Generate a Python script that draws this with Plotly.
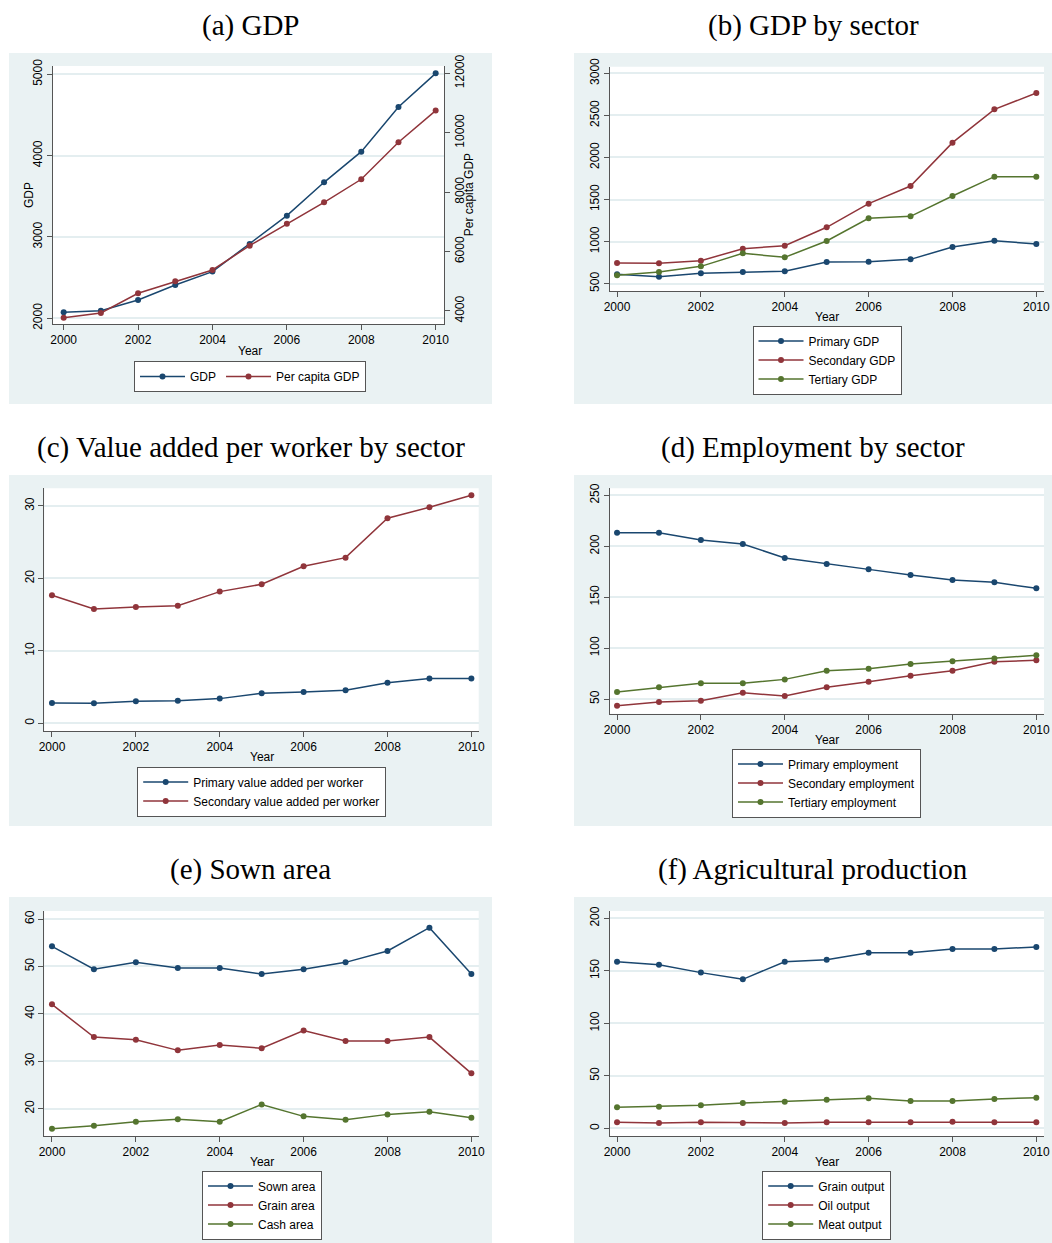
import plotly.graph_objects as go

# ---- data -------------------------------------------------------------
years = list(range(2000, 2011))
year_ticks = [2000, 2002, 2004, 2006, 2008, 2010]

gdp = [2074, 2094, 2225, 2410, 2574, 2914, 3262, 3672, 4049, 4598, 5012]
per_capita_gdp = [3776, 3933, 4595, 4999, 5380, 6200, 6940, 7658, 8433, 9678, 10744]

primary_gdp = [611, 583, 623, 639, 647, 758, 761, 789, 936, 1011, 971]
secondary_gdp = [746, 742, 773, 916, 952, 1170, 1451, 1661, 2176, 2572, 2766]
tertiary_gdp = [599, 639, 706, 861, 813, 1007, 1277, 1300, 1542, 1772, 1772]

primary_va_worker = [2.81, 2.76, 3.04, 3.13, 3.41, 4.14, 4.33, 4.56, 5.61, 6.17, 6.17]
secondary_va_worker = [17.67, 15.78, 16.06, 16.24, 18.18, 19.19, 21.67, 22.87, 28.30, 29.82, 31.48]

primary_emp = [213.3, 213.3, 206.1, 202.2, 188.5, 182.6, 177.3, 171.8, 166.9, 164.6, 158.7]
secondary_emp = [43.5, 47.1, 48.4, 56.2, 52.9, 61.5, 67.0, 72.9, 77.8, 86.7, 88.0]
tertiary_emp = [56.9, 61.5, 65.4, 65.4, 69.3, 77.8, 79.8, 84.4, 87.0, 89.9, 92.9]

sown_area = [54.24, 49.4, 50.86, 49.67, 49.67, 48.4, 49.4, 50.86, 53.25, 58.17, 48.4]
grain_area = [42.0, 35.1, 34.55, 32.3, 33.43, 32.74, 36.5, 34.27, 34.27, 35.1, 27.45]
cash_area = [15.78, 16.4, 17.26, 17.75, 17.26, 20.9, 18.38, 17.68, 18.8, 19.37, 18.1]

grain_output = [158.7, 155.9, 148.3, 141.9, 158.7, 160.6, 167.3, 167.3, 170.8, 170.8, 172.7]
oil_output = [5.7, 5.1, 5.7, 5.1, 5.1, 5.7, 5.7, 5.7, 6.3, 5.7, 5.7]
meat_output = [20.0, 20.6, 21.9, 24.1, 25.4, 27.3, 28.6, 26.0, 26.0, 27.9, 29.2]

panel_titles = ["(a) GDP", "(b) GDP by sector", "(c) Value added per worker by sector",
                "(d) Employment by sector", "(e) Sown area", "(f) Agricultural production"]

# ---- styling ----------------------------------------------------------
W, H = 1052, 1243
NAVY, MAROON, GREEN = "#1a476f", "#90353b", "#55752f"
PANEL_BG = "#eaf2f3"
GRID = "#e4eef0"
AXIS = "#555555"
SANS = "Liberation Sans, Arial, sans-serif"
SERIF = "Liberation Serif, Times New Roman, serif"


def fx(px):
    return px / W


def fy(py):
    return 1 - py / H


fig = go.Figure()


def add_series(y, name, color, xaxis, yaxis, legend):
    fig.add_trace(go.Scatter(
        x=years, y=y, name=name, mode="lines+markers",
        line=dict(color=color, width=1.5),
        marker=dict(color=color, size=6, symbol="circle"),
        xaxis=xaxis, yaxis=yaxis, legend=legend,
    ))


# (a)
add_series(gdp, "GDP", NAVY, "x", "y", "legend")
add_series(per_capita_gdp, "Per capita GDP", MAROON, "x", "y7", "legend")
# (b)
add_series(primary_gdp, "Primary GDP", NAVY, "x2", "y2", "legend2")
add_series(secondary_gdp, "Secondary GDP", MAROON, "x2", "y2", "legend2")
add_series(tertiary_gdp, "Tertiary GDP", GREEN, "x2", "y2", "legend2")
# (c)
add_series(primary_va_worker, "Primary value added per worker", NAVY, "x3", "y3", "legend3")
add_series(secondary_va_worker, "Secondary value added per worker", MAROON, "x3", "y3", "legend3")
# (d)
add_series(primary_emp, "Primary employment", NAVY, "x4", "y4", "legend4")
add_series(secondary_emp, "Secondary employment", MAROON, "x4", "y4", "legend4")
add_series(tertiary_emp, "Tertiary employment", GREEN, "x4", "y4", "legend4")
# (e)
add_series(sown_area, "Sown area", NAVY, "x5", "y5", "legend5")
add_series(grain_area, "Grain area", MAROON, "x5", "y5", "legend5")
add_series(cash_area, "Cash area", GREEN, "x5", "y5", "legend5")
# (f)
add_series(grain_output, "Grain output", NAVY, "x6", "y6", "legend6")
add_series(oil_output, "Oil output", MAROON, "x6", "y6", "legend6")
add_series(meat_output, "Meat output", GREEN, "x6", "y6", "legend6")

# panel geometry (pixels): grey region, plot region, axis ranges
panels = [
    dict(bg=(9, 53, 492, 404), plot=(52.7, 66, 444, 324),
         xr=[1999.705, 2010.224], yr=[1930, 5102], yt=[2000, 3000, 4000, 5000]),
    dict(bg=(574, 53, 1052, 404), plot=(609.7, 66.7, 1044, 291),
         xr=[1999.825, 2010.183], yr=[413, 3079], yt=[500, 1000, 1500, 2000, 2500, 3000]),
    dict(bg=(9, 475, 492, 826), plot=(44.3, 488.3, 478.7, 731),
         xr=[1999.817, 2010.175], yr=[-1.06, 32.44], yt=[0, 10, 20, 30]),
    dict(bg=(574, 475, 1052, 826), plot=(609.7, 488.3, 1044, 713.7),
         xr=[1999.825, 2010.183], yr=[35.6, 256.9], yt=[50, 100, 150, 200, 250]),
    dict(bg=(9, 897, 492, 1243), plot=(44.3, 911, 478.7, 1136),
         xr=[1999.817, 2010.175], yr=[14.24, 61.69], yt=[20, 30, 40, 50, 60]),
    dict(bg=(574, 897, 1052, 1243), plot=(609.7, 911, 1044, 1136),
         xr=[1999.825, 2010.183], yr=[-7.3, 206.98], yt=[0, 50, 100, 150, 200]),
]

title_y = [25, 25, 447, 447, 869, 869]
year_label_pos = [(250, 351), (826.7, 317), (261.7, 757), (826.7, 740), (261.7, 1162), (826.7, 1162)]
legend_pos = [(250, 361), (827, 325.5), (261.7, 766.5), (826.5, 748.5), (262, 1170.5), (826.7, 1170.5)]

shapes = []
annotations = []
layout = dict(
    width=W, height=H, autosize=False,
    margin=dict(l=0, r=0, t=0, b=0, autoexpand=False),
    paper_bgcolor="white", plot_bgcolor="rgba(0,0,0,0)",
    font=dict(family=SANS, size=12, color="black"),
)

tick_font = dict(family=SANS, size=12, color="black")

for i, p in enumerate(panels):
    n = "" if i == 0 else str(i + 1)
    bx0, by0, bx1, by1 = p["bg"]
    px0, py0, px1, py1 = p["plot"]
    shapes.append(dict(type="rect", xref="paper", yref="paper", layer="below",
                       x0=fx(bx0), x1=fx(bx1), y0=fy(by1), y1=fy(by0),
                       fillcolor=PANEL_BG, line=dict(width=0)))
    shapes.append(dict(type="rect", xref="paper", yref="paper", layer="below",
                       x0=fx(px0), x1=fx(px1), y0=fy(py1), y1=fy(py0),
                       fillcolor="white", line=dict(width=0)))
    layout["xaxis" + n] = dict(
        domain=[fx(px0), fx(px1)], range=p["xr"], anchor="y" + n,
        tickvals=year_ticks, ticks="outside", ticklen=5, tickcolor=AXIS,
        showline=True, linecolor=AXIS, linewidth=1, showgrid=False, zeroline=False,
        tickfont=tick_font, tickformat="d", fixedrange=True, automargin=False,
    )
    layout["yaxis" + n] = dict(
        domain=[fy(py1), fy(py0)], range=p["yr"], anchor="x" + n,
        tickvals=p["yt"], ticks="outside", ticklen=5, tickcolor=AXIS,
        tickangle=-90, showline=True, linecolor=AXIS, linewidth=1,
        showgrid=True, gridcolor=GRID, gridwidth=1.5, zeroline=False,
        tickfont=tick_font, tickformat="d", fixedrange=True, automargin=False,
    )
    annotations.append(dict(text=panel_titles[i], xref="paper", yref="paper",
                            x=fx((bx0 + bx1) / 2), y=fy(title_y[i]),
                            xanchor="center", yanchor="middle", showarrow=False,
                            font=dict(family=SERIF, size=29, color="black")))
    yx, yy = year_label_pos[i]
    annotations.append(dict(text="Year", xref="paper", yref="paper",
                            x=fx(yx), y=fy(yy), xanchor="center", yanchor="middle",
                            showarrow=False, font=dict(family=SANS, size=12, color="black")))
    lx, ly = legend_pos[i]
    layout["legend" + n] = dict(
        x=fx(lx), y=fy(ly), xanchor="center", yanchor="top",
        xref="container", yref="container",
        orientation="h" if i == 0 else "v",
        bgcolor="white", bordercolor=AXIS, borderwidth=1,
        font=dict(family=SANS, size=12, color="black"),
        itemwidth=45, traceorder="normal",
    )

# secondary (right) axis for per capita GDP in panel (a)
layout["yaxis7"] = dict(
    overlaying="y", side="right", anchor="x", range=[3562, 12246],
    tickvals=[4000, 6000, 8000, 10000, 12000], ticks="outside", ticklen=5,
    tickcolor=AXIS, tickangle=-90, showline=True, linecolor=AXIS, linewidth=1,
    showgrid=False, zeroline=False, tickfont=tick_font, tickformat="d",
    fixedrange=True, automargin=False,
)
annotations.append(dict(text="GDP", xref="paper", yref="paper", x=fx(29), y=fy(195),
                        textangle=-90, xanchor="center", yanchor="middle", showarrow=False,
                        font=dict(family=SANS, size=12, color="black")))
annotations.append(dict(text="Per capita GDP", xref="paper", yref="paper", x=fx(469.3), y=fy(195),
                        textangle=-90, xanchor="center", yanchor="middle", showarrow=False,
                        font=dict(family=SANS, size=12, color="black")))

layout["shapes"] = shapes
layout["annotations"] = annotations
fig.update_layout(**layout)

fig.write_html("out.html", config={"displayModeBar": False})
